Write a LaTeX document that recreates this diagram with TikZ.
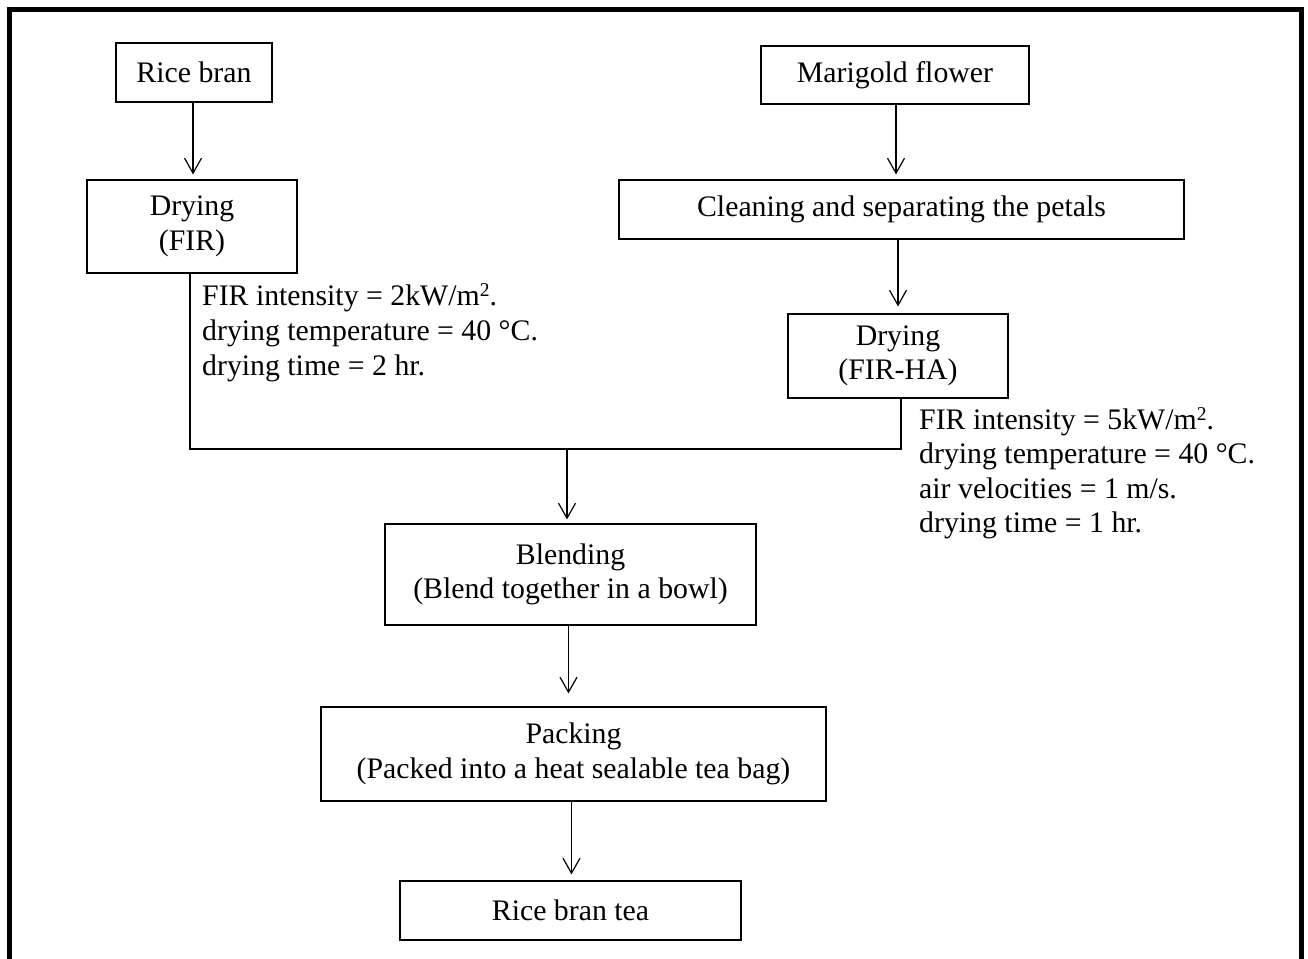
\documentclass[tikz,border=0pt]{standalone}
\usepackage{fontspec}
\setmainfont{Liberation Serif}
\usetikzlibrary{arrows.meta,calc}
\newcommand{\supTwo}{\raisebox{9pt}{\fontsize{19.5}{20}\selectfont 2}}
\begin{document}
\begin{tikzpicture}[x=1pt,y=-1pt,
  txt/.style={font=\fontsize{29.8}{34.5}\selectfont},
  box/.style={txt,draw,line width=1.2pt,align=center,inner sep=0pt},
  note/.style={txt,anchor=base west,inner sep=0pt},
  conn/.style={line width=1.2pt},
  arr/.style={conn,-{Straight Barb[length=15pt,width=17pt]}}]
\useasboundingbox (0,0) rectangle (1308,958);
\begin{scope}
\clip (0,0) rectangle (1308,958);
\draw[line width=4.5pt] (9.5,975) -- (9.5,9.5) -- (1301.5,9.5) -- (1301.5,975);
\end{scope}

% boxes
\node[box,minimum width=156pt,minimum height=59pt] (rice) at (194,72.5) {Rice bran};
\node[box,minimum width=210pt,minimum height=93pt] (dry1) at (192,226.5) {Drying\\(FIR)};
\node[box,minimum width=268pt,minimum height=58pt] (mari) at (895,75) {Marigold flower};
\node[box,minimum width=565pt,minimum height=59pt] (clean) at (901.5,209.5) {Cleaning and separating the petals};
\node[box,minimum width=220pt,minimum height=84pt] (dry2) at (898,356) {Drying\\(FIR-HA)};
\node[box,minimum width=371pt,minimum height=101pt] (blend) at (570.5,574.5) {Blending\\(Blend together in a bowl)};
\node[box,minimum width=505pt,minimum height=94pt] (pack) at (573.5,754) {Packing\\(Packed into a heat sealable tea bag)};
\node[box,minimum width=341pt,minimum height=59pt] (tea) at (570.5,910.5) {Rice bran tea};

% annotations
\node[note] (n1a) at (202,305) {FIR intensity = 2kW/m\supTwo.};
\node[note] (n1b) at (202,340) {drying temperature = 40 °C.};
\node[note] (n1c) at (202,375) {drying time = 2 hr.};
\node[note] (n2a) at (919,429) {FIR intensity = 5kW/m\supTwo.};
\node[note] (n2b) at (919,463.5) {drying temperature = 40 °C.};
\node[note] (n2c) at (919,498) {air velocities = 1 m/s.};
\node[note] (n2d) at (919,532.5) {drying time = 1 hr.};

% connectors
\coordinate (j) at (567,449);
\draw[arr,shorten >=5pt] ([xshift=-1pt]rice.south) -- ([xshift=-1pt]rice.south |- dry1.north);
\draw[arr,shorten >=5pt] ([xshift=1pt]mari.south) -- ([xshift=1pt]mari.south |- clean.north);
\draw[arr,shorten >=7pt] (dry2.north |- clean.south) -- (dry2.north);
\draw[conn] ([xshift=-2pt]dry1.south) -- ([xshift=-2pt]dry1.south |- j) -- ([xshift=3pt]dry2.south |- j) -- ([xshift=3pt]dry2.south);
\draw[arr,shorten >=4pt] (j) -- (j |- blend.north);
\draw[arr,shorten >=13pt] ([xshift=-2pt]blend.south) -- ([xshift=-2pt]blend.south |- pack.north);
\draw[arr,shorten >=6pt] ([xshift=-2pt]pack.south) -- ([xshift=-2pt]pack.south |- tea.north);
\end{tikzpicture}
\end{document}
